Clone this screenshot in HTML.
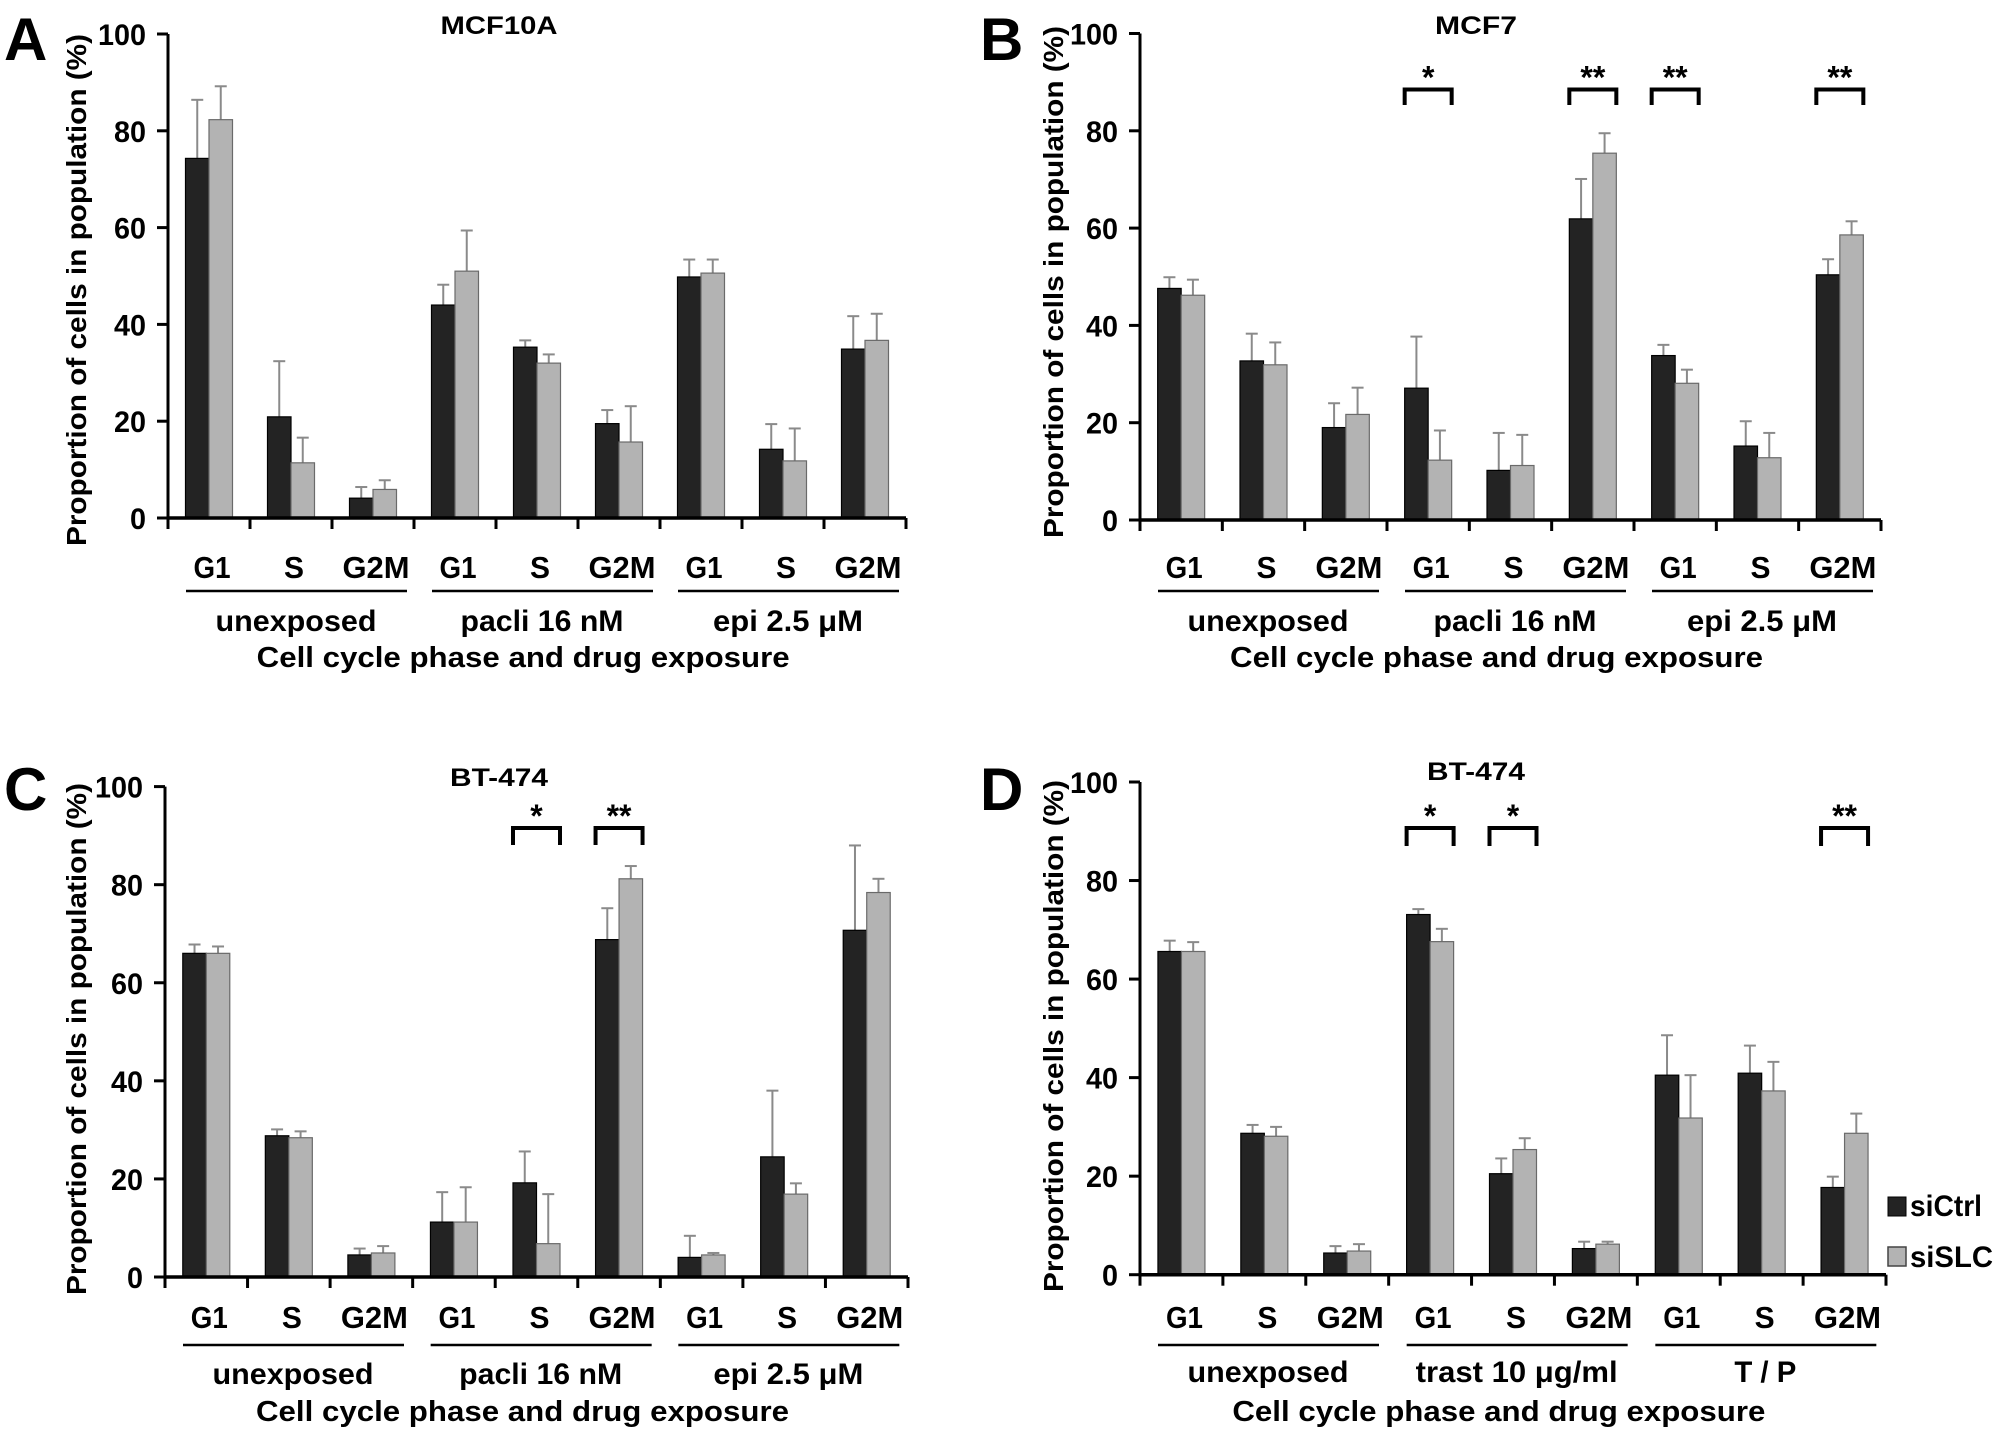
<!DOCTYPE html>
<html><head><meta charset="utf-8"><style>
html,body{margin:0;padding:0;background:#fff;}
svg{display:block;}
</style></head><body>
<svg id="fig" width="2008" height="1440" viewBox="0 0 2008 1440" xmlns="http://www.w3.org/2000/svg" font-family="'Liberation Sans Narrow','Liberation Sans',sans-serif" font-weight="bold"></svg>
<script>
const phases = ["G1","S","G2M","G1","S","G2M","G1","S","G2M"];
const yTicks = [0,20,40,60,80,100];
// Panel A MCF10A
const aCtrl = [74.3,20.9,4.1,44.0,35.3,19.5,49.8,14.2,34.9];
const aCtrlErr = [86.4,32.4,6.4,48.2,36.7,22.3,53.4,19.4,41.7];
const aSlc = [82.3,11.4,5.9,51.0,32.0,15.7,50.6,11.8,36.7];
const aSlcErr = [89.2,16.6,7.8,59.4,33.8,23.1,53.4,18.5,42.2];
// Panel B MCF7
const bCtrl = [47.6,32.7,19.0,27.1,10.2,61.9,33.8,15.2,50.4];
const bCtrlErr = [49.9,38.3,24.0,37.7,17.9,70.1,36.0,20.3,53.6];
const bSlc = [46.2,31.9,21.7,12.3,11.2,75.4,28.1,12.8,58.6];
const bSlcErr = [49.4,36.5,27.2,18.4,17.5,79.5,30.9,17.9,61.4];
// Panel C BT-474
const cCtrl = [66.0,28.8,4.5,11.2,19.2,68.8,4.0,24.5,70.7];
const cCtrlErr = [67.8,30.1,5.8,17.3,25.6,75.2,8.4,38.0,88.0];
const cSlc = [66.0,28.4,4.9,11.2,6.8,81.2,4.5,16.9,78.4];
const cSlcErr = [67.4,29.7,6.3,18.3,16.9,83.8,4.9,19.1,81.2];
// Panel D BT-474
const dCtrl = [65.6,28.7,4.4,73.1,20.5,5.3,40.5,40.9,17.7];
const dCtrlErr = [67.8,30.4,5.8,74.2,23.6,6.7,48.6,46.5,19.9];
const dSlc = [65.6,28.1,4.8,67.6,25.4,6.2,31.8,37.3,28.7];
const dSlcErr = [67.5,30.0,6.2,70.2,27.7,6.7,40.5,43.2,32.7];
const sigB = [[3,"*"],[5,"**"],[6,"**"],[8,"**"]];
const sigC = [[4,"*"],[5,"**"]];
const sigD = [[3,"*"],[4,"*"],[8,"**"]];
const groupsABC = ["unexposed","pacli 16 nM","epi 2.5 \u03bcM"];
const groupsD = ["unexposed","trast 10 \u03bcg/ml","T / P"];

const NS="http://www.w3.org/2000/svg";
const svg=document.getElementById('fig');
function mk(tag,attrs,parent){const e=document.createElementNS(NS,tag);for(const k in attrs)e.setAttribute(k,attrs[k]);(parent||svg).appendChild(e);return e;}
function txt(s,attrs,parent,len){const e=mk('text',attrs,parent);e.textContent=s;if(len){e.setAttribute('textLength',len);e.setAttribute('lengthAdjust','spacingAndGlyphs');}return e;}

const groupLens={"unexposed":161,"pacli 16 nM":163,"epi 2.5 \u03bcM":150,"trast 10 \u03bcg/ml":202,"T / P":62};
const phaseLens={"G1":37,"S":20,"G2M":67};

function panel(p){
  const g=mk('g',{});
  
  
  const x0=p.ax, x1=p.ax+p.w, y0=p.y0, y100=p.y100;
  const ys=v=>y0-(y0-y100)*v/100;
  const gw=p.w/9;
  const xs=i=>x0+i*gw;
  const L=txt(p.id,{x:p.lx,y:p.ly,'font-size':60,'font-family':"'Liberation Sans',sans-serif",fill:'#000'},g);
  
  
  const T=txt(p.title,{x:p.tx,y:p.ty,'font-size':25,'text-anchor':'middle',fill:'#000'},g,p.tlen);
  
  
  const yt=txt("Proportion of cells in population (%)",{x:0,y:0,'font-size':28,'font-family':"'Liberation Sans',sans-serif",'text-anchor':'middle',fill:'#000',transform:`translate(${p.ytx},${p.yty}) rotate(-90)`},g,512);
  
  
  const bw=23.5, off=(gw-2*bw)/2;
  for(let i=0;i<9;i++){
    const bx=xs(i)+off;
    const series=[[p.c[i],p.ce[i],'#232323','#000','siCtrl'],[p.s[i],p.se[i],'#b3b3b3','#6a6a6a','siSLC']];
    series.forEach((sr,k)=>{
      const x=bx+k*bw, cx=x+bw/2;
      const el=mk('line',{x1:cx,x2:cx,y1:ys(sr[0]),y2:ys(sr[1]),stroke:'#8a8a8a','stroke-width':2},g);
      
      
      const cap=mk('line',{x1:cx-6,x2:cx+6,y1:ys(sr[1]),y2:ys(sr[1]),stroke:'#8a8a8a','stroke-width':2},g);
      
      
      const r=mk('rect',{x:x,y:ys(sr[0]),width:bw,height:y0-ys(sr[0]),fill:sr[2],stroke:sr[3],'stroke-width':1.2},g);
      
      
    });
  }
  const ya=mk('line',{x1:x0,x2:x0,y1:y100,y2:y0+1,stroke:'#000','stroke-width':3},g);
  
  
  yTicks.forEach(v=>{
    const t=mk('line',{x1:x0-11,x2:x0,y1:ys(v),y2:ys(v),stroke:'#000','stroke-width':3},g);
    
    
    const lb=txt(String(v),{x:x0-22,y:ys(v)+11,'font-size':30,'text-anchor':'end',fill:'#000'},g,String(v).length*16);
    
    
  });
  const xa=mk('line',{x1:x0,x2:x1,y1:y0,y2:y0,stroke:'#000','stroke-width':3.5},g);
  
  
  for(let i=0;i<=9;i++){
    const t=mk('line',{x1:xs(i),x2:xs(i),y1:y0,y2:y0+11,stroke:'#000','stroke-width':3},g);
    
    
  }
  phases.forEach((ph,i)=>{
    const lb=txt(ph,{x:xs(i)+gw/2+3,y:p.ly1+11,'font-size':31,'text-anchor':'middle',fill:'#000'},g,phaseLens[ph]);
    
    
  });
  p.groups.forEach((gn,j)=>{
    const s=xs(j*3);
    const ul=mk('line',{x1:s+18,x2:s+239,y1:p.ul,y2:p.ul,stroke:'#000','stroke-width':2.5},g);
    
    
    const lb=txt(gn,{x:s+128,y:p.gl+10,'font-size':30,'text-anchor':'middle',fill:'#000'},g,groupLens[gn]);
    
    
  });
  const xt=txt("Cell cycle phase and drug exposure",{x:x0+p.w*0.465+12,y:p.xt+10,'font-size':29,'text-anchor':'middle',fill:'#000'},g,533);
  
  
  p.sig.forEach(sg=>{
    const bx=xs(sg[0])+off;
    const br=mk('path',{d:`M${bx} ${p.bb} L${bx} ${p.bt} L${bx+2*bw} ${p.bt} L${bx+2*bw} ${p.bb}`,fill:'none',stroke:'#000','stroke-width':4},g);
    
    
    const st=txt(sg[1],{x:bx+bw,y:p.bt-1,'font-size':32,'text-anchor':'middle',fill:'#000','font-family':"'Liberation Sans',sans-serif"},g);
    
    
  });
}

panel({id:'A',title:'MCF10A',tx:499,ty:34,tlen:117,ax:168,w:738,y0:518,y100:34,lx:4,ly:60,ytx:86,yty:290,
  c:aCtrl,ce:aCtrlErr,s:aSlc,se:aSlcErr,groups:groupsABC,ly1:567,ul:591,gl:621,xt:657,sig:[],bt:0,bb:0});
panel({id:'B',title:'MCF7',tx:1476,ty:34,tlen:82,ax:1140,w:741,y0:520,y100:33.5,lx:980,ly:60,ytx:1063,yty:282,
  c:bCtrl,ce:bCtrlErr,s:bSlc,se:bSlcErr,groups:groupsABC,ly1:567,ul:591,gl:621,xt:657,sig:sigB,bt:89.5,bb:105});
panel({id:'C',title:'BT-474',tx:499,ty:786,tlen:98,ax:165,w:743,y0:1277,y100:786.6,lx:4,ly:810,ytx:86,yty:1039,
  c:cCtrl,ce:cCtrlErr,s:cSlc,se:cSlcErr,groups:groupsABC,ly1:1317,ul:1345,gl:1374,xt:1411,sig:sigC,bt:828,bb:845});
panel({id:'D',title:'BT-474',tx:1476,ty:780,tlen:98,ax:1140,w:746,y0:1274.7,y100:782,lx:980,ly:810,ytx:1063,yty:1036,
  c:dCtrl,ce:dCtrlErr,s:dSlc,se:dSlcErr,groups:groupsD,ly1:1317,ul:1345,gl:1372,xt:1411,sig:sigD,bt:828,bb:846});

const lg=mk('g',{});


const r1=mk('rect',{x:1888,y:1197,width:18,height:19,fill:'#232323',stroke:'#000','stroke-width':1},lg);


const t1=txt('siCtrl',{x:1910,y:1216,'font-size':30,fill:'#000'},lg,72);


const r2=mk('rect',{x:1888,y:1247,width:18,height:19,fill:'#b3b3b3',stroke:'#444','stroke-width':1.5},lg);


const t2=txt('siSLC',{x:1910,y:1267,'font-size':30,fill:'#000'},lg,83);


</script>
</body></html>
